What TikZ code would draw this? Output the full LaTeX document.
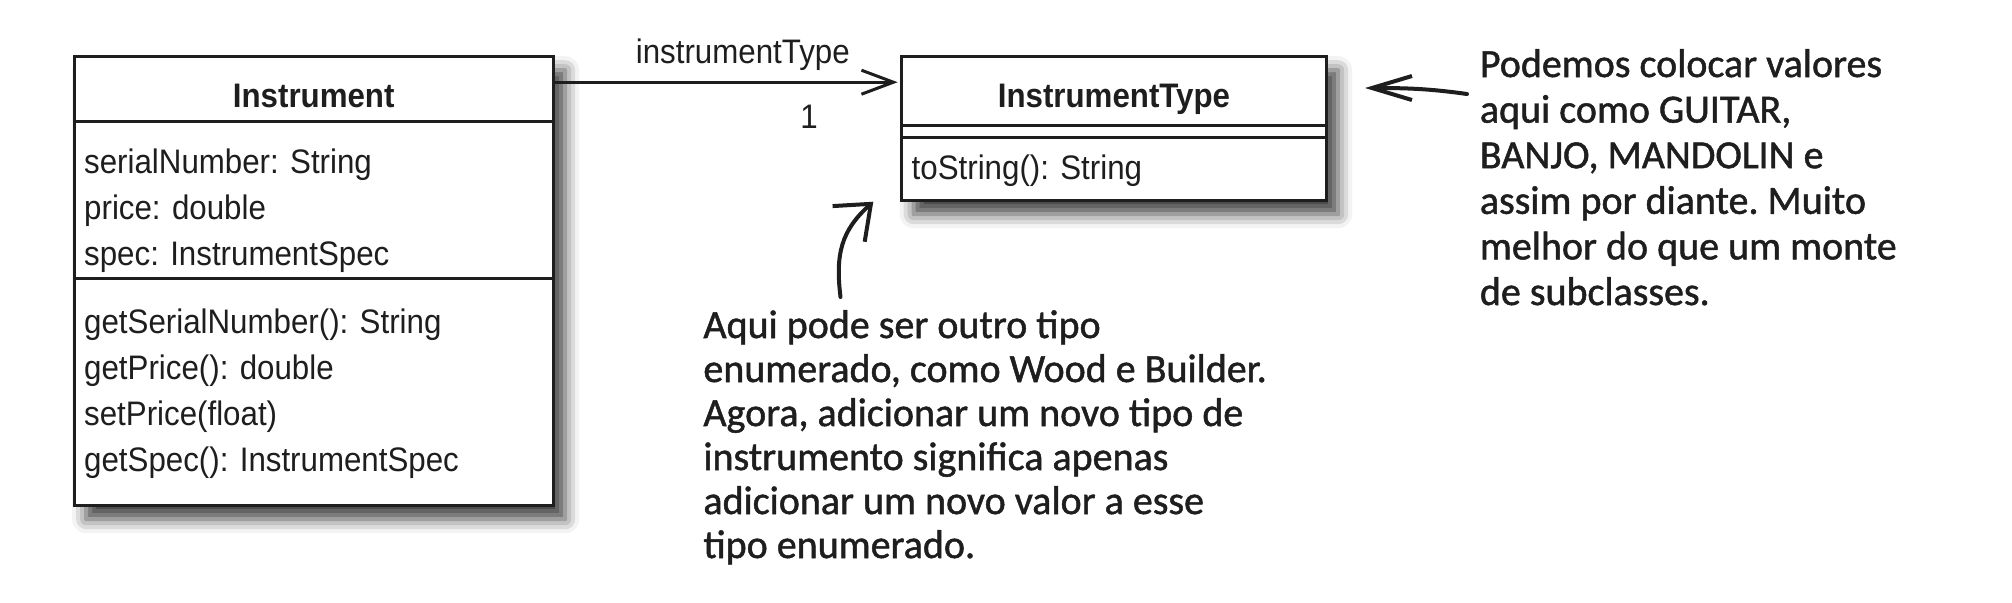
\documentclass[tikz,border=0pt]{standalone}
\usepackage{fontspec}
\setmainfont{Liberation Sans}[FakeStretch=0.92]
\newfontfamily\handfont{Carlito}[FakeBold=1.2]
\usetikzlibrary{positioning, shapes.multipart, arrows.meta, shadows.blur}
\definecolor{ink}{HTML}{1E1E1E}
\newcommand{\topgap}[1]{\rule{0pt}{#1}}
\newcommand{\botgap}[1]{\rule[-#1]{0pt}{#1}}
\newcommand{\classname}[1]{\hspace*{\fill}\textbf{#1}\hspace*{\fill}}
\frenchspacing
\begin{document}
\begin{tikzpicture}[
    umlclass/.style = {draw=ink, text=ink, line width=1.5pt, fill=white, rectangle split, rectangle split parts=3,
        rectangle split draw splits=false, inner xsep=5pt, inner ysep=0pt, outer sep=0pt, font=\fontsize{17}{23}\selectfont,
        blur shadow={shadow xshift=6pt, shadow yshift=-7pt, shadow blur radius=7pt, shadow opacity=75}},
    split/.style = {draw=ink, line width=1.5pt},
    assoc/.style = {draw=ink, line width=1.5pt, shorten >=2pt, -{Straight Barb[length=16pt, width=12pt]}},
    label/.style = {text=ink, font=\fontsize{17}{23}\selectfont},
    note/.style = {text=ink, align=left, inner sep=0pt},
    scribble/.style = {draw=ink, line width=2pt, line cap=round, line join=round}]
            \useasboundingbox (0,0) rectangle (1006pt,-301pt);

            %the classes

            \node[umlclass, text width=229.5pt, anchor=north west] (Instrument) at (37.1pt,-28.1pt)
                {\topgap{25pt}\classname{Instrument}\botgap{6.25pt}
                 \nodepart{second}\topgap{25.25pt}serialNumber: String\\ price: double\\ spec: InstrumentSpec\botgap{5.5pt}
                 \nodepart{third}\topgap{27pt}getSerialNumber(): String\\ getPrice(): double\\ setPrice(float)\\ getSpec(): InstrumentSpec\botgap{16pt}};
            \node[umlclass, text width=202.25pt] (InstrumentType) [right=174.25pt of Instrument.north east, anchor=north west]
                {\topgap{24.7pt}\classname{InstrumentType}\botgap{8.3pt}
                 \nodepart{second}\topgap{4.75pt}
                 \nodepart{third}\topgap{20.25pt}toString(): String\botgap{9.5pt}};
            \draw[split] (Instrument.text split west) -- (Instrument.text split east);
            \draw[split] (Instrument.two split west) -- (Instrument.two split east);
            \draw[split] (InstrumentType.text split west) -- (InstrumentType.text split east);
            \draw[split] (InstrumentType.two split west) -- (InstrumentType.two split east);
            \draw[assoc] ([yshift=-13pt]Instrument.north east) -- ([yshift=-13pt]InstrumentType.north west)
                node[label, pos=0.544, anchor=base, yshift=9.5pt] {instrumentType}
                node[label, pos=0.734, anchor=base, yshift=-23.3pt] {1};

            %the notes

            \node[note, font=\handfont\fontsize{20}{22}\selectfont, anchor=base west] (TypeNote) at (351.5pt,-279pt)
                {Aqui pode ser outro tipo\\ enumerado, como Wood e Builder.\\ Agora, adicionar um novo tipo de\\
                 instrumento significa apenas\\ adicionar um novo valor a esse\\ tipo enumerado.};
            \node[note, font=\handfont\fontsize{20}{22.8}\selectfont, anchor=base west] (ValueNote) at (739.75pt,-152.5pt)
                {Podemos colocar valores\\ aqui como GUITAR,\\ BANJO, MANDOLIN e\\ assim por diante. Muito\\
                 melhor do que um monte\\ de subclasses.};
            \coordinate (TypeTip) at (436.65pt,-100.85pt);
            \coordinate (ValueTip) at (682.5pt,-44pt);
            \draw[scribble, -{Straight Barb[length=15pt, width=24pt]}] ([shift={(68.75pt,130.5pt)}]TypeNote.base west)
                to[out=97, in=-138, looseness=1.1] (TypeTip);
            \draw[scribble, -{Straight Barb[length=20pt, width=12pt]}] ([shift={(-6.25pt,105.5pt)}]ValueNote.base west)
                to[out=172, in=0] (ValueTip);
        \end{tikzpicture}
\end{document}
